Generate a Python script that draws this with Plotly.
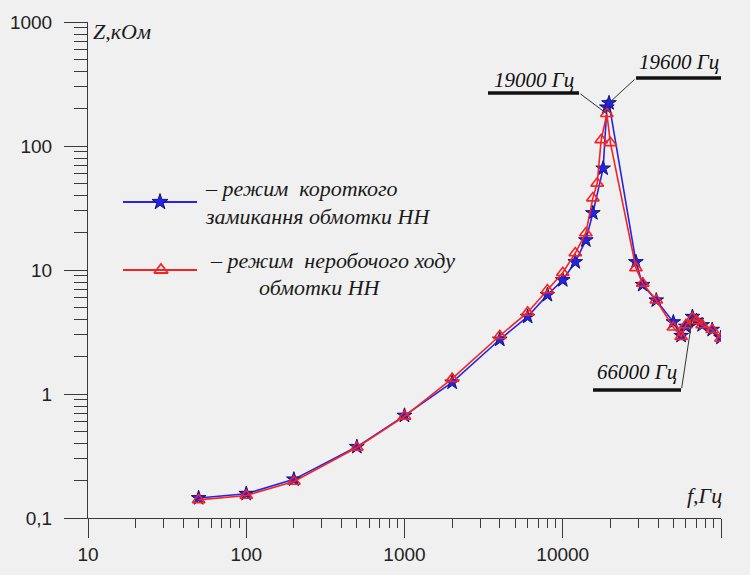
import math
import plotly.graph_objects as go

# Frequency response of winding impedance, two test modes
freq_sc = [50, 100, 200, 500, 1000, 2000, 4000, 6000, 8000, 10000, 12000, 14000,
           15500, 18000, 19000, 19600, 29000, 32000, 39000, 50000, 56000, 60000,
           66000, 70000, 76000, 88000, 100000]
z_sc = [0.145, 0.157, 0.205, 0.375, 0.67, 1.24, 2.75, 4.2, 6.3, 8.3, 11.6, 17.4,
        28.8, 66, 205, 222, 11.6, 7.6, 5.7, 3.8, 2.95, 3.5, 4.2, 3.9, 3.6, 3.3, 2.85]

freq_oc = [50, 100, 200, 500, 1000, 2000, 4000, 6000, 8000, 10000, 12000, 14000,
           15500, 16500, 17500, 19000, 20000, 29000, 32000, 39000, 50000, 56000,
           60000, 66000, 70000, 76000, 88000, 100000]
z_oc = [0.14, 0.152, 0.197, 0.37, 0.66, 1.33, 2.95, 4.55, 6.9, 9.5, 13.7, 19.9,
        38, 50, 112, 182, 106, 10.4, 7.8, 5.7, 3.45, 2.9, 3.6, 4.1, 3.9, 3.6, 3.3, 2.8]

x_ticks = [10, 100, 1000, 10000, 100000]
x_ticktext = ["10", "100", "1000", "10000", "100000"]
y_ticks = [0.1, 1, 10, 100, 1000]
y_ticktext = ["0,1", "1", "10", "100", "1000"]

NB = "\u00a0"
legend_sc = [f"– режим{NB} короткого", "замикання обмотки НН"]
legend_oc = [f"– режим{NB} неробочого ходу", "обмотки НН"]

# marked frequencies: (frequency, impedance, label)
marks = [(19000, 182, "19000 Гц"), (19600, 222, "19600 Гц"), (66000, 4.2, "66000 Гц")]

BLUE = "#2424e8"
RED = "#f42424"
AXIS = "#3a3a3a"
BG = "#f0f0f0"
SERIF = "Liberation Serif, Times New Roman, serif"
SANS = "Liberation Sans, Arial, sans-serif"

# plot-area geometry in pixels (used for the overlay helper axis)
L, R, T, B = 88, 721, 22, 518

fig = go.Figure()
fig.add_trace(go.Scatter(
    x=freq_sc, y=z_sc, mode="lines+markers", name=" ".join(legend_sc),
    line=dict(color=BLUE, width=1.6),
    marker=dict(symbol="star", size=11, color=BLUE, line=dict(color="#12127a", width=1)),
))
fig.add_trace(go.Scatter(
    x=freq_oc, y=z_oc, mode="lines+markers", name=" ".join(legend_oc),
    line=dict(color=RED, width=1.6),
    marker=dict(symbol="triangle-up-open", size=11, color=RED, line=dict(width=1.6)),
))

# legend keys drawn on a pixel-scaled overlay axis
fig.add_trace(go.Scatter(x=[123, 197], y=[202, 202], xaxis="x2", yaxis="y2", mode="lines",
                         line=dict(color=BLUE, width=2.2), showlegend=False, hoverinfo="skip"))
fig.add_trace(go.Scatter(x=[160], y=[202], xaxis="x2", yaxis="y2", mode="markers",
                         marker=dict(symbol="star", size=12, color=BLUE,
                                     line=dict(color="#12127a", width=1)),
                         showlegend=False, hoverinfo="skip"))
fig.add_trace(go.Scatter(x=[123, 197], y=[270, 270], xaxis="x2", yaxis="y2", mode="lines",
                         line=dict(color=RED, width=2.2), showlegend=False, hoverinfo="skip"))
fig.add_trace(go.Scatter(x=[161], y=[270], xaxis="x2", yaxis="y2", mode="markers",
                         marker=dict(symbol="triangle-up-open", size=12, color=RED,
                                     line=dict(width=1.8)),
                         showlegend=False, hoverinfo="skip"))

annotations = []
shapes = []

# legend text
legend_rows = [
    (203, 188, legend_sc[0]),
    (203, 216, legend_sc[1]),
    (208, 260, legend_oc[0]),
    (257, 287, legend_oc[1]),
]
for x, y, txt in legend_rows:
    annotations.append(dict(x=x, y=y, xref="x2", yref="y2", text=f"<i>{txt}</i>",
                            showarrow=False, xanchor="left", yanchor="middle",
                            font=dict(family=SERIF, size=22, color="#1a1a1a")))

# axis titles
annotations.append(dict(x=91, y=31, xref="x2", yref="y2", text="<i>Z,кОм</i>",
                        showarrow=False, xanchor="left", yanchor="middle",
                        font=dict(family=SERIF, size=22, color="#1a1a1a")))
annotations.append(dict(x=704, y=495, xref="x2", yref="y2", text="<i>f,Гц</i>",
                        showarrow=False, xanchor="center", yanchor="middle",
                        font=dict(family=SERIF, size=22, color="#1a1a1a")))

# callouts: text, thick underline, leader line to the point
callouts = [
    # (text centre x, text centre y, underline x0, x1, underline y, leader tail dx, dy)
    (534, 80, 488, 579, 93, -28, -21),
    (679, 62, 636, 722, 78, 27, -25),
    (637, 372, 593, 681, 390, -11, 73),
]
for (f, z, label), (tx, ty, ux0, ux1, uy, dx, dy) in zip(marks, callouts):
    annotations.append(dict(x=tx, y=ty, xref="x2", yref="y2", text=f"<i>{label}</i>",
                            showarrow=False, xanchor="center", yanchor="middle",
                            font=dict(family=SERIF, size=21, color="#111111")))
    shapes.append(dict(type="line", xref="x2", yref="y2", x0=ux0, x1=ux1, y0=uy, y1=uy,
                       line=dict(color="#111111", width=3.5)))
    annotations.append(dict(x=math.log10(f), y=math.log10(z), xref="x", yref="y", text="",
                            showarrow=True, arrowhead=0, arrowwidth=1, arrowcolor="#333333",
                            ax=dx, ay=dy, axref="pixel", ayref="pixel", standoff=0))

minor_x = [m * 10 ** e for e in range(1, 5) for m in range(2, 10)]
minor_y = [m * 10 ** e for e in range(-1, 3) for m in range(2, 10)]

fig.update_layout(
    width=750, height=575,
    margin=dict(l=L, r=750 - R, t=T, b=575 - B),
    paper_bgcolor=BG, plot_bgcolor=BG,
    showlegend=False,
    annotations=annotations,
    shapes=shapes,
    xaxis=dict(
        type="log", range=[1, 5], showgrid=False, zeroline=False, automargin=False,
        showline=True, linecolor=AXIS, linewidth=1,
        ticks="outside", ticklen=19, tickcolor=AXIS, tickwidth=1,
        tickvals=x_ticks, ticktext=x_ticktext,
        tickfont=dict(family=SANS, size=19, color="#222222"),
        minor=dict(tickvals=minor_x, ticks="outside", ticklen=9, tickcolor=AXIS,
                   tickwidth=1, showgrid=False),
    ),
    yaxis=dict(
        type="log", range=[-1, 3], showgrid=False, zeroline=False, automargin=False,
        showline=True, linecolor=AXIS, linewidth=1,
        ticks="outside", ticklen=23, tickcolor=AXIS, tickwidth=1,
        tickvals=y_ticks, ticktext=y_ticktext,
        tickfont=dict(family=SANS, size=19, color="#222222"),
        ticklabelstandoff=8,
        minor=dict(tickvals=minor_y, ticks="outside", ticklen=13, tickcolor=AXIS,
                   tickwidth=1, showgrid=False),
    ),
    xaxis2=dict(overlaying="x", range=[L, R], visible=False, fixedrange=True,
                automargin=False),
    yaxis2=dict(overlaying="y", range=[B, T], visible=False, fixedrange=True,
                automargin=False),
)

fig.write_html("out.html")
